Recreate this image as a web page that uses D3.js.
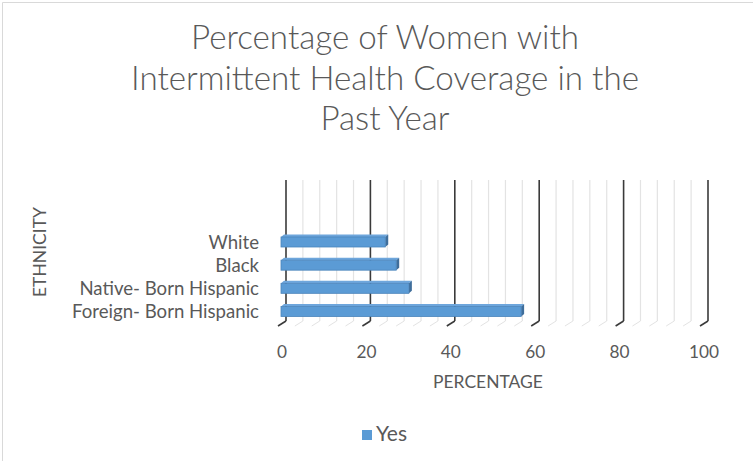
<!DOCTYPE html>
<html>
<head>
<meta charset="utf-8">
<script src="https://cdn.jsdelivr.net/npm/d3@7"></script>
<style>
  html, body { margin: 0; padding: 0; background: #fff; }
  svg { display: block; }
  text { font-family: Lato, "Open Sans", sans-serif; fill: #595959; }
</style>
</head>
<body>
<script>
// Chart data
const titleLines = ["Percentage of Women with", "Intermittent Health Coverage in the", "Past Year"];
const categories = ["White", "Black", "Native- Born Hispanic", "Foreign- Born Hispanic"];
const yesValues = [24.7, 27.3, 30.3, 56.9];
const tickValues = [0, 20, 40, 60, 80, 100];
const seriesName = "Yes";
const xAxisTitle = "PERCENTAGE";
const yAxisTitle = "ETHNICITY";

const W = 753, H = 461;
const svg = d3.select("body").append("svg").attr("width", W).attr("height", H);

// Resize a text element so it spans the given width
function fit(sel, width) {
  const n = sel.node();
  const fs = parseFloat(sel.attr("font-size"));
  const w = n.getComputedTextLength();
  sel.attr("font-size", (fs * width / w).toFixed(2));
  return sel;
}
// Font size at which a string spans the given width
function sizeFor(str, width, weight) {
  const t = svg.append("text").attr("font-size", 16).attr("font-weight", weight || 400).text(str);
  fit(t, width);
  const s = +t.attr("font-size");
  t.remove();
  return s;
}

// Outer chart border (top and left edges)
svg.append("path").attr("d", "M2.5,461V2.5H753")
  .attr("fill", "none").attr("stroke", "#d9d9d9").attr("stroke-width", 1);
svg.append("text").attr("x", 20).attr("y", -4).attr("font-size", 16)
  .style("fill", "#222").text("g");

// Title (one size for all three lines)
const titleY = [49, 90, 130];
const titleSize = sizeFor(titleLines[1], 508, 300);
titleLines.forEach((t, i) => {
  svg.append("text").attr("x", 385).attr("y", titleY[i])
    .attr("text-anchor", "middle").attr("font-size", titleSize).attr("font-weight", 300).text(t);
});

// Scales: front plane for bars/labels, back wall offset by depth
const x = d3.scaleLinear().domain([0, 100]).range([281, 703]);
const depthX = 5;
const y = d3.scalePoint().domain(categories).range([242, 311.5]);
const wallTop = 180, floorY = 321;

// Minor gridlines (every 4 units) on the back wall + floor ticks
const minor = d3.range(0, 101, 4).filter(v => v % 20 !== 0);
const g = svg.append("g");
minor.forEach(v => {
  const xb = x(v) + depthX;
  g.append("line").attr("x1", xb).attr("x2", xb).attr("y1", wallTop).attr("y2", floorY)
    .attr("stroke", "#e3e3e3").attr("stroke-width", 1.2);
  g.append("line").attr("x1", xb).attr("y1", floorY).attr("x2", xb - 8).attr("y2", floorY + 5)
    .attr("stroke", "#e3e3e3").attr("stroke-width", 1);
});
// Major gridlines
tickValues.forEach(v => {
  const xb = x(v) + depthX;
  g.append("line").attr("x1", xb).attr("x2", xb).attr("y1", wallTop).attr("y2", floorY)
    .attr("stroke", "#3a3a3a").attr("stroke-width", 1.6);
  g.append("line").attr("x1", xb).attr("y1", floorY).attr("x2", xb - 8).attr("y2", floorY + 5)
    .attr("stroke", "#3a3a3a").attr("stroke-width", 1.6);
});

// 3D bars
const barH = 10, dx = 3, dy = 2.5;
const bars = svg.append("g");
categories.forEach((c, i) => {
  const x0 = x(0), x1 = x(yesValues[i]);
  const yt = y(c) - barH / 2;
  // top face
  bars.append("path")
    .attr("d", `M${x0},${yt}L${x0 + dx},${yt - dy}L${x1 + dx},${yt - dy}L${x1},${yt}Z`)
    .attr("fill", "#6ea6dc");
  // end face
  bars.append("path")
    .attr("d", `M${x1},${yt}L${x1 + dx},${yt - dy}L${x1 + dx},${yt + barH - dy}L${x1},${yt + barH}Z`)
    .attr("fill", "#3f6e9b");
  // front face
  bars.append("rect").attr("x", x0).attr("y", yt).attr("width", x1 - x0).attr("height", barH)
    .attr("fill", "#5b9bd5").attr("stroke", "#4a84bb").attr("stroke-width", 0.8);
});

// Category labels
const catSize = sizeFor(categories[3], 187);
categories.forEach(c => {
  svg.append("text").attr("x", 259).attr("y", y(c) + catSize * 0.35)
    .attr("text-anchor", "end").attr("font-size", catSize).text(c);
});

// X tick labels
const tickSize = sizeFor("100", 30);
tickValues.forEach(v => {
  svg.append("text").attr("x", x(v) + 1).attr("y", 352 + tickSize * 0.35)
    .attr("text-anchor", "middle").attr("font-size", tickSize).text(v);
});

// Axis titles
const xt = svg.append("text").attr("x", 488).attr("y", 388).attr("text-anchor", "middle")
  .attr("font-size", 15).text(xAxisTitle);
fit(xt, 110);
const yt = svg.append("text").attr("transform", "translate(46,252) rotate(-90)")
  .attr("text-anchor", "middle").attr("font-size", 15).text(yAxisTitle);
fit(yt, 90);

// Legend
svg.append("rect").attr("x", 362).attr("y", 430).attr("width", 10).attr("height", 10).attr("fill", "#5b9bd5");
const lt = svg.append("text").attr("x", 376).attr("y", 441).attr("font-size", 16).text(seriesName);
fit(lt, 31);
</script>
</body>
</html>
